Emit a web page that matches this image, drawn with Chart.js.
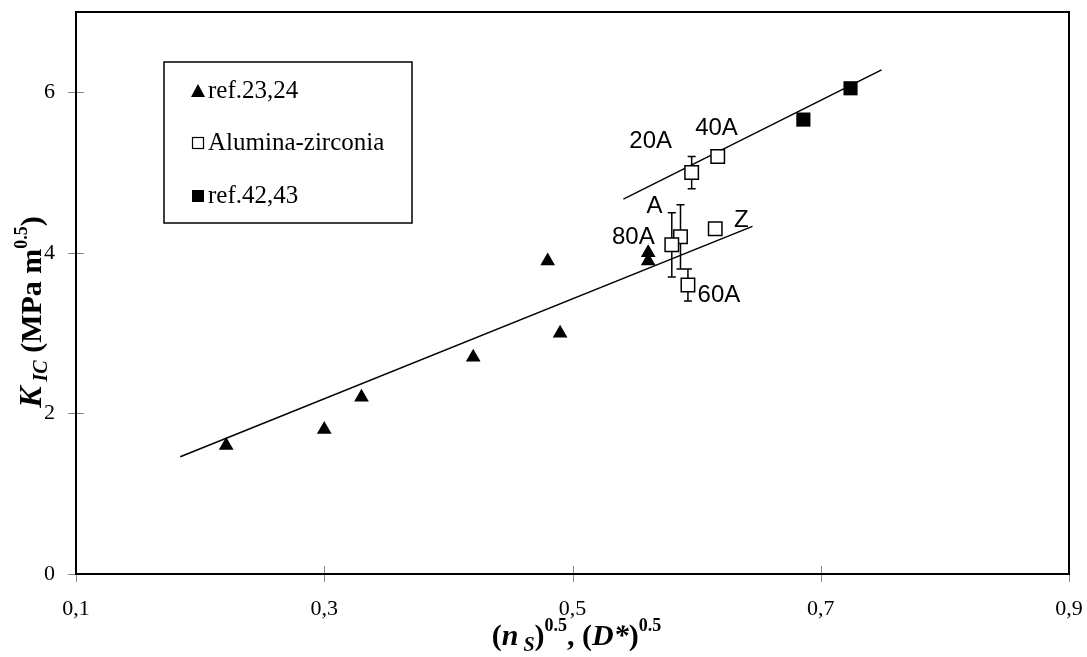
<!DOCTYPE html>
<html>
<head>
<meta charset="utf-8">
<script src="https://cdn.jsdelivr.net/npm/chart.js@4.4.0/dist/chart.umd.min.js"></script>
<style>
html, body { margin: 0; padding: 0; background: #fff; }
#wrap { width: 1087px; height: 657px; }
</style>
</head>
<body>
<div id="wrap"><canvas id="chart"></canvas></div>
<script>
// ref.23,24 (triangles)
const refAX = [0.221, 0.30, 0.33, 0.42, 0.48, 0.49, 0.561, 0.561];
const refAY = [1.6, 1.8, 2.2, 2.7, 3.9, 3.0, 4.0, 3.9];

// Alumina-zirconia (open squares) with error bars
const azNames = ["20A", "40A", "A", "80A", "Z", "60A"];
const azX = [0.596, 0.617, 0.587, 0.580, 0.615, 0.593];
const azY = [5.0, 5.2, 4.2, 4.1, 4.3, 3.6];
const azErr = [0.2, 0.08, 0.4, 0.4, 0.07, 0.2];
// where each sample name is written
const azLabelX = [0.563, 0.616, 0.566, 0.549, 0.636, 0.618];
const azLabelY = [5.39, 5.55, 4.58, 4.19, 4.41, 3.47];

// ref.42,43 (filled squares)
const refBX = [0.686, 0.724];
const refBY = [5.66, 6.05];

// trend lines
const fitLowX = [0.184, 0.645];
const fitLowY = [1.46, 4.33];
const fitHighX = [0.541, 0.749];
const fitHighY = [4.67, 6.28];

const xTicks = [0.1, 0.3, 0.5, 0.7, 0.9];
const yTicks = [0, 2, 4, 6];

const toPoints = (xs, ys) => xs.map((x, i) => ({ x: x, y: ys[i] }));

// draw a row of text pieces centred on x
function drawRuns(ctx, runs, x, y) {
    let total = 0;
    runs.forEach(r => { ctx.font = r.font; total += ctx.measureText(r.t).width; });
    let cx = x - total / 2;
    runs.forEach(r => {
        ctx.font = r.font;
        ctx.fillText(r.t, cx, y + (r.dy || 0));
        cx += ctx.measureText(r.t).width;
    });
}

const extras = {
    id: "extras",
    beforeDatasetsDraw(chart) {
        const ctx = chart.ctx;
        const xs = chart.scales.x, ys = chart.scales.y;
        ctx.save();
        ctx.strokeStyle = "#000";
        ctx.lineWidth = 1.5;
        azX.forEach((xv, i) => {
            const px = xs.getPixelForValue(xv);
            const top = ys.getPixelForValue(azY[i] + azErr[i]);
            const bot = ys.getPixelForValue(azY[i] - azErr[i]);
            ctx.beginPath();
            ctx.moveTo(px, top); ctx.lineTo(px, bot);
            ctx.moveTo(px - 4, top); ctx.lineTo(px + 4, top);
            ctx.moveTo(px - 4, bot); ctx.lineTo(px + 4, bot);
            ctx.stroke();
        });
        ctx.restore();
    },
    afterDraw(chart) {
        const ctx = chart.ctx;
        const a = chart.chartArea;
        const xs = chart.scales.x, ys = chart.scales.y;
        ctx.save();

        // tick marks across the axes
        ctx.strokeStyle = "#888";
        ctx.lineWidth = 1;
        xTicks.forEach(v => {
            const px = Math.round(xs.getPixelForValue(v)) + 0.5;
            ctx.beginPath(); ctx.moveTo(px, a.bottom - 8); ctx.lineTo(px, a.bottom + 8); ctx.stroke();
        });
        yTicks.forEach(v => {
            const py = Math.round(ys.getPixelForValue(v)) + 0.5;
            ctx.beginPath(); ctx.moveTo(a.left - 8, py); ctx.lineTo(a.left + 8, py); ctx.stroke();
        });

        // plot frame
        ctx.strokeStyle = "#000";
        ctx.lineWidth = 2;
        ctx.strokeRect(a.left, a.top, a.right - a.left, a.bottom - a.top);

        // sample names
        ctx.fillStyle = "#000";
        ctx.font = "24px 'Liberation Sans', Arial, sans-serif";
        ctx.textAlign = "center";
        ctx.textBaseline = "middle";
        azNames.forEach((n, i) => {
            ctx.fillText(n, xs.getPixelForValue(azLabelX[i]), ys.getPixelForValue(azLabelY[i]));
        });

        // legend box
        ctx.lineWidth = 1.5;
        ctx.strokeRect(164, 62, 248, 161);
        ctx.textAlign = "left";
        ctx.font = "25px 'Liberation Serif', 'Times New Roman', serif";
        const mx = 198;
        ctx.beginPath();
        ctx.moveTo(mx, 84); ctx.lineTo(mx + 7, 97); ctx.lineTo(mx - 7, 97); ctx.closePath();
        ctx.fill();
        ctx.fillText("ref.23,24", 208, 91);
        ctx.lineWidth = 1.2;
        ctx.strokeRect(mx - 5.5, 137.5, 11, 11);
        ctx.fillText("Alumina-zirconia", 208, 143);
        ctx.fillRect(mx - 6, 190, 12, 12);
        ctx.fillText("ref.42,43", 208, 196);

        // axis titles
        ctx.textBaseline = "alphabetic";
        const tb = "bold 30px 'Liberation Serif', 'Times New Roman', serif";
        const tbi = "italic bold 30px 'Liberation Serif', 'Times New Roman', serif";
        const sb = "bold 18px 'Liberation Serif', 'Times New Roman', serif";
        const sbi = "italic bold 20px 'Liberation Serif', 'Times New Roman', serif";
        drawRuns(ctx, [
            { t: "(", font: tb }, { t: "n", font: tbi }, { t: " S", font: sbi, dy: 6 },
            { t: ")", font: tb }, { t: "0.5", font: sb, dy: -14 }, { t: ", (", font: tb },
            { t: "D*", font: tbi }, { t: ")", font: tb }, { t: "0.5", font: sb, dy: -14 }
        ], (a.left + a.right) / 2 + 4, 645);

        ctx.translate(41, 312);
        ctx.rotate(-Math.PI / 2);
        drawRuns(ctx, [
            { t: "K", font: "italic bold 32px 'Liberation Serif', serif" },
            { t: " IC", font: sbi, dy: 6 },
            { t: " (MPa m", font: tb }, { t: "0.5", font: sb, dy: -14 }, { t: ")", font: tb }
        ], 0, 0);
        ctx.restore();
    }
};

const lineStyle = { showLine: true, pointRadius: 0, borderColor: "#000", borderWidth: 1.5, order: 5 };

new Chart(document.getElementById("chart"), {
    type: "scatter",
    data: {
        datasets: [
            { label: "ref.23,24", data: toPoints(refAX, refAY), pointStyle: "triangle", pointRadius: 8.5,
              backgroundColor: "#000", borderColor: "#000", borderWidth: 0, order: 1 },
            { label: "Alumina-zirconia", data: toPoints(azX, azY), pointStyle: "rect", pointRadius: 9.5,
              backgroundColor: "#fff", borderColor: "#000", borderWidth: 1.5, order: 1 },
            { label: "ref.42,43", data: toPoints(refBX, refBY), pointStyle: "rect", pointRadius: 10,
              backgroundColor: "#000", borderColor: "#000", borderWidth: 0, order: 1 },
            Object.assign({ label: "fit low", data: toPoints(fitLowX, fitLowY) }, lineStyle),
            Object.assign({ label: "fit high", data: toPoints(fitHighX, fitHighY) }, lineStyle)
        ]
    },
    options: {
        responsive: true,
        maintainAspectRatio: false,
        animation: false,
        layout: { padding: { top: 12, right: 18, left: 0, bottom: 0 } },
        plugins: { legend: { display: false }, tooltip: { enabled: false } },
        scales: {
            x: {
                type: "linear", min: 0.1, max: 0.9,
                afterBuildTicks: s => { s.ticks = xTicks.map(v => ({ value: v })); },
                afterFit: s => { s.height = 83; s.paddingLeft = 0; s.paddingRight = 0; },
                grid: { display: false, drawTicks: false },
                border: { display: false },
                ticks: { padding: 22, color: "#000", maxRotation: 0,
                         font: { family: "'Liberation Serif', 'Times New Roman', serif", size: 22 },
                         callback: v => v.toFixed(1).replace(".", ",") }
            },
            y: {
                type: "linear", min: 0, max: 7,
                afterBuildTicks: s => { s.ticks = yTicks.map(v => ({ value: v })); },
                afterFit: s => { s.width = 76; s.paddingTop = 0; s.paddingBottom = 0; },
                grid: { display: false, drawTicks: false },
                border: { display: false },
                ticks: { padding: 21, color: "#000",
                         font: { family: "'Liberation Serif', 'Times New Roman', serif", size: 22 },
                         callback: v => String(v) }
            }
        }
    },
    plugins: [extras]
});
</script>
</body>
</html>
